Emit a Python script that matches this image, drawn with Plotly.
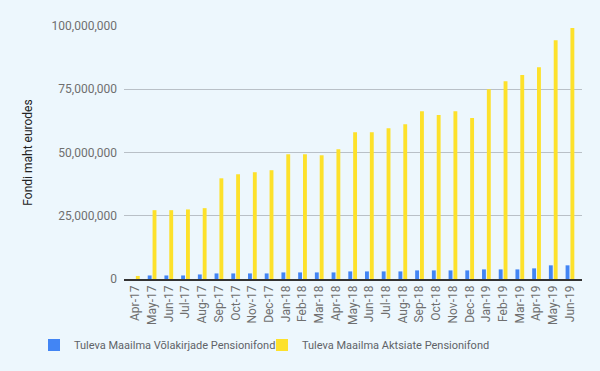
import plotly.graph_objects as go

months = ["Apr-17", "May-17", "Jun-17", "Jul-17", "Aug-17", "Sep-17", "Oct-17", "Nov-17", "Dec-17",
          "Jan-18", "Feb-18", "Mar-18", "Apr-18", "May-18", "Jun-18", "Jul-18", "Aug-18", "Sep-18",
          "Oct-18", "Nov-18", "Dec-18", "Jan-19", "Feb-19", "Mar-19", "Apr-19", "May-19", "Jun-19"]

bonds = [0, 1400000, 1400000, 1400000, 1800000, 2200000, 2200000, 2200000, 2200000,
         2600000, 2600000, 2600000, 2600000, 3000000, 3000000, 3000000, 3000000, 3400000,
         3400000, 3400000, 3400000, 3800000, 3800000, 3800000, 4200000, 5400000, 5400000]

stocks = [1200000, 27200000, 27200000, 27500000, 28000000, 39800000, 41400000, 42200000, 43000000,
          49300000, 49300000, 48900000, 51300000, 58000000, 58000000, 59600000, 61200000, 66300000,
          64800000, 66300000, 63600000, 75000000, 78200000, 80600000, 83700000, 94400000, 99200000]

y_ticks = [0, 25000000, 50000000, 75000000, 100000000]
y_tick_labels = ["0", "25,000,000", "50,000,000", "75,000,000", "100,000,000"]

bg = "#EDF7FD"
L, R, T, B = 124, 18, 26, 92
W, H = 600, 371
pw = W - L - R
ph = H - T - B

fig = go.Figure()
fig.add_trace(go.Bar(x=months, y=bonds, name="Tuleva Maailma Võlakirjade Pensionifond",
                     marker=dict(color="#4285F4", line=dict(width=0))))
fig.add_trace(go.Bar(x=months, y=stocks, name="Tuleva Maailma Aktsiate Pensionifond",
                     marker=dict(color="#FDE12B", line=dict(width=0))))

fig.update_layout(
    width=W, height=H,
    paper_bgcolor=bg, plot_bgcolor=bg,
    margin=dict(l=L, r=R, t=T, b=B, autoexpand=False),
    barmode="group", bargap=0.42, bargroupgap=0.2,
    font=dict(family="Roboto", size=12, color="#666666"),
    showlegend=True,
    legend=dict(orientation="h", xref="paper", yref="paper",
                x=(34 - L) / pw, xanchor="left",
                y=-(345 - T - ph) / ph, yanchor="middle",
                font=dict(family="Roboto", size=11, color="#5f6368"),
                itemwidth=30, entrywidth=183, bgcolor="rgba(0,0,0,0)"),
    xaxis=dict(type="category", tickangle=-90, range=[-0.68, 26.72], automargin=False,
               showgrid=False, showline=True, linecolor="#333333", linewidth=1.5,
               ticks="", tickfont=dict(size=12, color="#6f6f6f")),
    yaxis=dict(range=[0, 100000000], tickvals=y_ticks, ticktext=y_tick_labels, automargin=False,
               showgrid=True, gridcolor="#B9C0C7", gridwidth=1, zeroline=False,
               ticks="", ticklabelstandoff=6,
               title=dict(text="Fondi maht eurodes", font=dict(family="Roboto", size=12, color="#222222"),
                          standoff=16),
               tickfont=dict(size=12, color="#6f6f6f")),
)

fig.write_html("out.html", config={"displayModeBar": False},
               post_script="document.body.style.margin='0';document.body.style.background='%s';" % bg)
